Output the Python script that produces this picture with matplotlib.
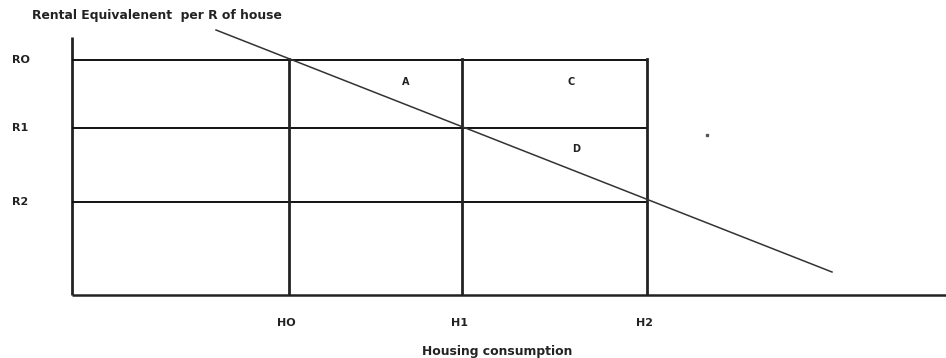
import matplotlib
matplotlib.use("Agg")
import matplotlib.pyplot as plt

# price levels (rental equivalent) and housing quantities, axis units from the origin
price_labels = ['RO', 'R1', 'R2']
prices = [235, 167, 93]
qty_labels = ['HO', 'H1', 'H2']
quantities = [217, 390, 575]

# demand line end points
demand_x = [144, 760]
demand_y = [265, 23]

# area letters
area_labels = ['A', 'C', 'D']
area_x = [334, 499, 504]
area_y = [213, 213, 146]

x_max, y_max = 874, 295
y_axis_top = 258

fig = plt.figure(figsize=(9.46, 3.58), dpi=100)
ax = fig.add_axes([72 / 946, 63 / 358, 874 / 946, 295 / 358])
ax.set_xlim(0, x_max)
ax.set_ylim(0, y_max)
ax.axis('off')

# axes
ax.plot([0, 0], [0, y_axis_top], color='#222222', lw=2, solid_capstyle='butt', clip_on=False)
ax.plot([0, x_max], [0, 0], color='#222222', lw=1.8, solid_capstyle='butt', clip_on=False)

# horizontal price lines up to H2
for p in prices:
    ax.plot([0, quantities[-1]], [p, p], color='#111111', lw=1.4)

# vertical quantity lines up to R0
for q in quantities:
    ax.plot([q, q], [0, prices[0] + 1], color='#222222', lw=2)

# demand curve
ax.plot(demand_x, demand_y, color='#333333', lw=1.1)

fs = 8
for lab, p in zip(price_labels, prices):
    ax.text(-60, p, lab, fontsize=fs, fontweight='bold', ha='left', va='center',
            color='#222222', clip_on=False)
for lab, q in zip(qty_labels, quantities):
    ax.text(q - 3, -28, lab, fontsize=fs, fontweight='bold', ha='center', va='center',
            color='#222222', clip_on=False)
for lab, x, y in zip(area_labels, area_x, area_y):
    ax.text(x, y, lab, fontsize=fs - 1, fontweight='bold', ha='center', va='center',
            color='#222222')

ax.plot([635], [160], marker='s', ms=1.5, color='#555555', lw=0)

fig.text(32 / 946, 1 - 16 / 358, 'Rental Equivalenent  per R of house', fontsize=8.9,
         fontweight='bold', ha='left', va='center', color='#222222')
fig.text(497 / 946, 1 - 351 / 358, 'Housing consumption', fontsize=8.9,
         fontweight='bold', ha='center', va='center', color='#222222')

fig.savefig('out.png', dpi=100, facecolor='white')
